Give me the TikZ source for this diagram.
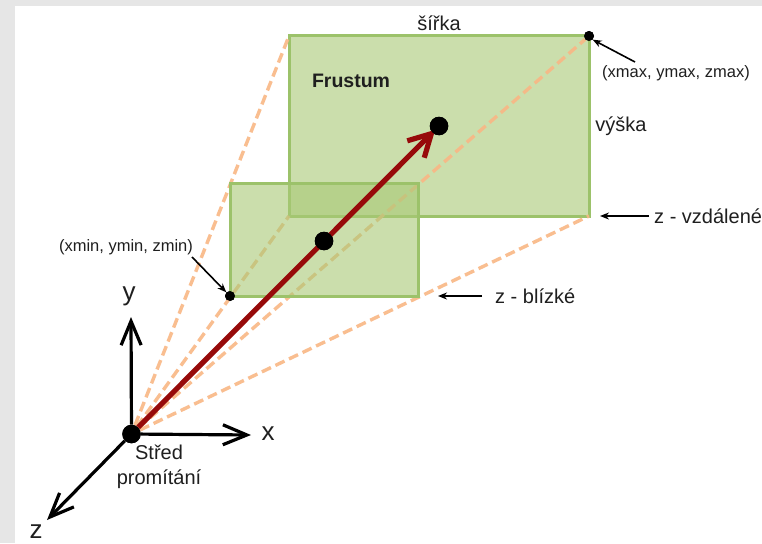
\documentclass[tikz,border=0pt]{standalone}
\usepackage{fontspec}
\setmainfont{Liberation Sans}
\usetikzlibrary{arrows.meta}
\definecolor{pagegray}{HTML}{E6E6E6}
\definecolor{frameedge}{HTML}{9CC26A}
\definecolor{framefill}{HTML}{A9C976}
\definecolor{dashorange}{HTML}{F9B785}
\definecolor{axisred}{HTML}{970A0A}
\definecolor{labelgray}{HTML}{1F1F1F}
\tikzset{
  frame/.style={draw=frameedge,line width=3pt,fill=framefill,fill opacity=.6,draw opacity=1},
  sight/.style={draw=dashorange,line width=3.4pt,dash pattern=on 10pt off 5pt,draw opacity=.9},
  axisline/.style={draw=black,line width=3.2pt,-{Straight Barb[length=24pt,width=20pt,line width=3.2pt]}},
  pointer/.style={draw=black,line width=1.6pt,-{Stealth[length=9pt,width=7pt]}},
  bigdot/.style={circle,fill=black,inner sep=0pt,minimum size=18.5pt},
  tinydot/.style={circle,fill=black,inner sep=0pt,minimum size=10pt},
  lab/.style={inner sep=0pt,text=labelgray,font=\fontsize{20}{25}\selectfont},
  smalllab/.style={inner sep=0pt,text=labelgray,font=\fontsize{16.5}{19}\selectfont},
  axislab/.style={inner sep=0pt,text=labelgray,font=\fontsize{26}{28}\selectfont},
}
\begin{document}
\begin{tikzpicture}[x=1pt,y=-1pt]
\useasboundingbox (0,0) rectangle (762,543);
\fill[pagegray] (0,0) rectangle (762,543);
\fill[white] (15,6) rectangle (762,543);
% named points
\coordinate (btl) at (289,36);
\coordinate (bbl) at (289,216);
\coordinate (bbr) at (589,216);
\coordinate (ntl) at (230,183);
\coordinate (nbr) at (418,296);
\node[bigdot] (o) at (131.5,434) {};
\node[tinydot] (zmaxpt) at (589,36) {};
\node[tinydot] (zminpt) at (230,296) {};
% far plane
\draw[frame] (btl) rectangle (bbr);
% sight lines
\draw[sight] (o) -- (btl);
\draw[sight] (o) -- (bbl);
\draw[sight] (o) -- (zmaxpt);
\draw[sight] (o) -- (bbr);
% near plane
\draw[frame] (ntl) rectangle (nbr);
% redraw point markers over the planes
\node[tinydot] at (zmaxpt) {};
\node[tinydot] at (zminpt) {};
% main axis
\node[bigdot] (far) at (439,126) {};
\node[bigdot] (near) at (324,241) {};
\draw[draw=axisred,line width=5.2pt,shorten >=-4pt,-{Straight Barb[length=22pt,width=24pt,line width=5.2pt]}] (o) -- (far);
\node[bigdot] at (far) {};
\node[bigdot] at (near) {};
% axes
\coordinate (xe) at (251,435);
\coordinate (ye) at (131,317);
\coordinate (ze) at (47,520);
\draw[axisline] (o) -- (xe);
\draw[axisline] (o) -- (ye);
\draw[axisline] (o) -- (ze);
\node[bigdot] at (o) {};
\node[axislab] (xl) at (268,434) {x};
\node[axislab] (yl) at (129,296) {y};
\node[axislab] (zl) at (36,532) {z};
% labels
\node[inner sep=0pt,text=labelgray,font=\bfseries\fontsize{19.5}{22}\selectfont] (fr) at (351,81) {Frustum};
\node[lab] (sirka) at (439,23) {šířka};
\node[lab] (vyska) at (621,126) {výška};
\node[lab,anchor=west] (zfar) at (654,216) {z - vzdálené};
\node[lab,anchor=west] (znear) at (495,296) {z - blízké};
\node[smalllab] (maxl) at (676,73) {(xmax, ymax, zmax)};
\node[smalllab] (minl) at (126,247) {(xmin, ymin, zmin)};
\node[lab,align=center] (stred) at (159,467) {Střed\\promítání};
% pointers
\coordinate (pmaxs) at (635,62);
\coordinate (pmins) at (192,257);
\coordinate (pfar) at (600,216);
\coordinate (pnear) at (438,296);
\draw[pointer] (pmaxs) -- (zmaxpt.south east);
\draw[pointer] (pmins) -- (zminpt.north west);
\draw[pointer] (zfar.west) ++(-5,0) -- (pfar);
\draw[pointer] (znear.west) ++(-13,0) -- (pnear);
\end{tikzpicture}
\end{document}
